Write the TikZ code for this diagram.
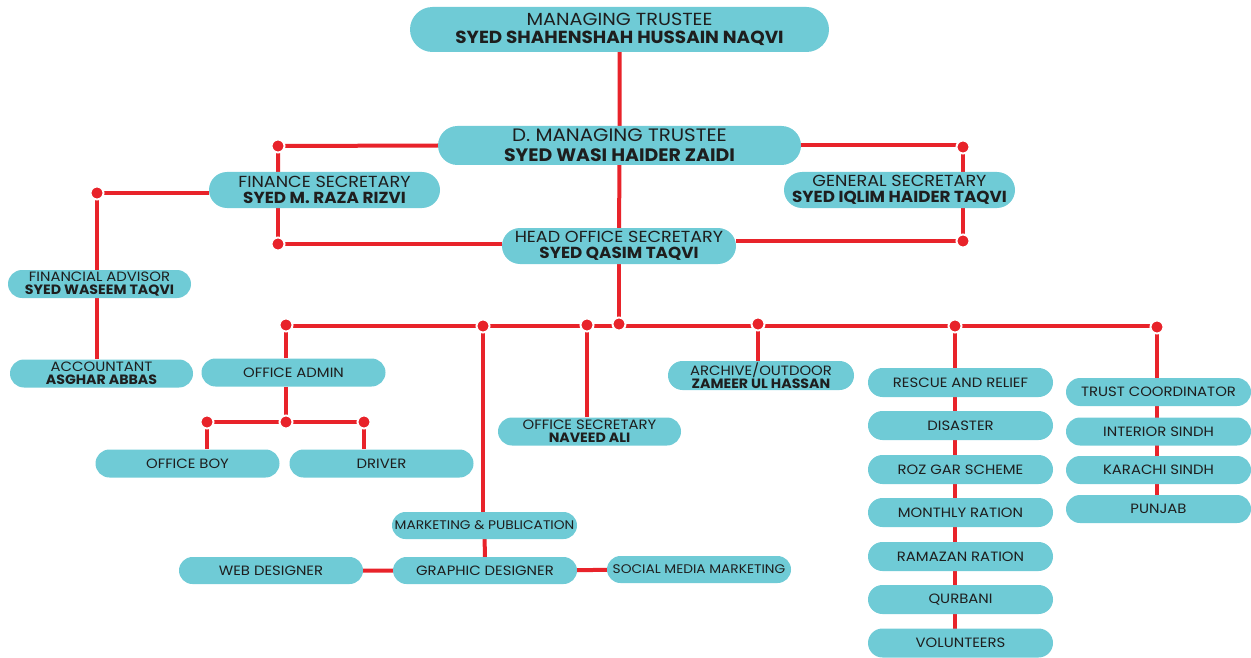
\documentclass[tikz,border=0pt]{standalone}
\usepackage{fontspec}
\setmainfont{Poppins}[FakeStretch=1.1]
\newfontfamily\nmfont{Poppins}[FakeStretch=1.05]
\newcommand{\nm}[1]{{\nmfont\bfseries #1}}
\usetikzlibrary{shapes.misc,backgrounds}
\definecolor{boxc}{HTML}{6FCBD6}
\definecolor{linec}{HTML}{E8232A}
\definecolor{txt}{HTML}{1E1E1E}
\tikzset{
  box/.style={rounded rectangle, fill=boxc, text=txt, align=center, inner sep=0pt, minimum height=28, minimum width=184},
  ftop/.style={font=\fontsize{17.5}{18}\selectfont},
  fbig/.style={font=\fontsize{18}{20}\selectfont},
  fmid/.style={font=\fontsize{16}{16}\selectfont},
  fsml/.style={font=\fontsize{13.5}{13}\selectfont},
  fxs/.style={font=\fontsize{12.5}{13}\selectfont},
  conn/.style={draw=linec, line width=4},
  jdot/.style={circle, fill=linec, draw=white, line width=2, minimum size=13, inner sep=0pt},
}
\begin{document}
\begin{tikzpicture}[x=1pt,y=-1pt]
\useasboundingbox (0,0) rectangle (1251,658);
% level 1-3
\node[box,ftop,minimum width=419,minimum height=45] (mt) at (619.5,29.5) {MANAGING TRUSTEE\\\nm{SYED SHAHENSHAH HUSSAIN NAQVI}};
\node[box,fbig,minimum width=363,minimum height=39] (dmt) at (619.5,145.5) {D. MANAGING TRUSTEE\\\nm{SYED WASI HAIDER ZAIDI}};
\node[box,fmid,minimum width=231,minimum height=36] (fs) at (324.5,190) {FINANCE SECRETARY\\\nm{SYED M. RAZA RIZVI}};
\node[box,fmid,minimum width=231,minimum height=36] (gs) at (899.5,190) {GENERAL SECRETARY\\\nm{SYED IQLIM HAIDER TAQVI}};
\node[box,fmid,minimum width=234,minimum height=36] (ho) at (619,246) {HEAD OFFICE SECRETARY\\\nm{SYED QASIM TAQVI}};
\node[box,fsml,minimum width=183] (fa) at (99.5,284) {FINANCIAL ADVISOR\\\nm{SYED WASEEM TAQVI}};
\node[box,fsml,minimum width=183] (acc) at (101.5,373.5) {ACCOUNTANT\\\nm{ASGHAR ABBAS}};
\node[box,fsml] (oa) at (293.5,372.5) {OFFICE ADMIN};
\node[box,fsml] (ob) at (187.5,463.5) {OFFICE BOY};
\node[box,fsml] (dr) at (381.5,463.5) {DRIVER};
\node[box,fsml,minimum width=183] (os) at (589.5,431.5) {OFFICE SECRETARY\\\nm{NAVEED ALI}};
\node[box,fsml,minimum width=186,minimum height=29] (ar) at (761,375.5) {ARCHIVE/OUTDOOR\\\nm{ZAMEER UL HASSAN}};
% rescue column
\node[box,fsml,minimum width=185,minimum height=29] (r1) at (960.5,382.5) {RESCUE AND RELIEF};
\node[box,fsml,minimum width=185,minimum height=29] (r2) at (960.5,425.5) {DISASTER};
\node[box,fsml,minimum width=185,minimum height=29] (r3) at (960.5,469.5) {ROZ GAR SCHEME};
\node[box,fsml,minimum width=185,minimum height=29] (r4) at (960.5,512.5) {MONTHLY RATION};
\node[box,fsml,minimum width=185,minimum height=29] (r5) at (960.5,556.5) {RAMAZAN RATION};
\node[box,fsml,minimum width=185,minimum height=29] (r6) at (960.5,599.5) {QURBANI};
\node[box,fsml,minimum width=185,minimum height=29] (r7) at (960.5,643) {VOLUNTEERS};
% trust column
\node[box,fsml,minimum width=185] (t1) at (1158.5,392) {TRUST COORDINATOR};
\node[box,fsml,minimum width=185] (t2) at (1158.5,431.5) {INTERIOR SINDH};
\node[box,fsml,minimum width=185] (t3) at (1158.5,470) {KARACHI SINDH};
\node[box,fsml,minimum width=185] (t4) at (1158.5,509) {PUNJAB};
% marketing
\node[box,fxs,minimum width=185,minimum height=27] (mp) at (484.5,525.5) {MARKETING \& PUBLICATION};
\node[box,fsml,minimum width=184,minimum height=27] (gd) at (485,570.5) {GRAPHIC DESIGNER};
\node[box,fsml,minimum width=184,minimum height=27] (wd) at (271,570.5) {WEB DESIGNER};
\node[box,fxs,minimum width=184,minimum height=27] (sm) at (699,569.5) {SOCIAL MEDIA MARKETING};
% junction dots
\node[jdot] (dfl) at (278,146) {};
\node[jdot] (dgr) at (963,147) {};
\node[jdot] (dfb) at (278,244) {};
\node[jdot] (dgb) at (963,241) {};
\node[jdot] (dfa) at (97,193) {};
\node[jdot] (b0) at (286,325) {};
\node[jdot] (b1) at (483,326) {};
\node[jdot] (b2) at (587,325) {};
\node[jdot] (bc) at (619,324) {};
\node[jdot] (b3) at (758,324) {};
\node[jdot] (b4) at (955,326) {};
\node[jdot] (b5) at (1157,327) {};
\node[jdot] (oc) at (286,422) {};
\node[jdot] (ol) at (207,422) {};
\node[jdot] (or) at (364,422) {};
\coordinate (busl) at (286,325.5);
\coordinate (busr) at (1157,325.5);
\begin{scope}[on background layer]
\draw[conn] (mt) -- (dmt);
\draw[conn] (dmt) -- (ho);
\draw[conn] (dmt.west) -- (dfl.center) -- (dfl.center |- fs.north);
\draw[conn] (dmt.east) -- (dgr.center |- dmt.east) -- (dgr.center) -- (dgr.center |- gs.north);
\draw[conn] (dfb.center |- fs.south) -- (dfb.center) -- (dfb.center -| ho.west);
\draw[conn] (dgb.center |- gs.south) -- (dgb.center) -- (dgb.center -| ho.east);
\draw[conn] (fs.west |- dfa.center) -- (dfa.center) -- (dfa.center |- fa.north);
\draw[conn] (fa.south -| dfa.center) -- (acc.north -| dfa.center);
\draw[conn] (ho) -- (bc.center);
\draw[conn] (busl) -- (busr);
\draw[conn] (b0.center) -- (b0.center |- oa.north);
\draw[conn] (b1.center) -- (b1.center |- mp.north);
\draw[conn] (b2.center) -- (b2.center |- os.north);
\draw[conn] (b3.center) -- (b3.center |- ar.north);
\draw[conn] (b4.center) -- (b4.center |- r7.center);
\draw[conn] (b5.center) -- (b5.center |- t4.center);
\draw[conn] (oc.center |- oa.south) -- (oc.center);
\draw[conn] (ol.center) -- (or.center);
\draw[conn] (ol.center) -- (ol.center |- ob.north);
\draw[conn] (or.center) -- (or.center |- dr.north);
\draw[conn] (mp) -- (gd);
\draw[conn] (wd) -- (gd);
\draw[conn] (gd) -- (sm);
\end{scope}
\end{tikzpicture}
\end{document}
